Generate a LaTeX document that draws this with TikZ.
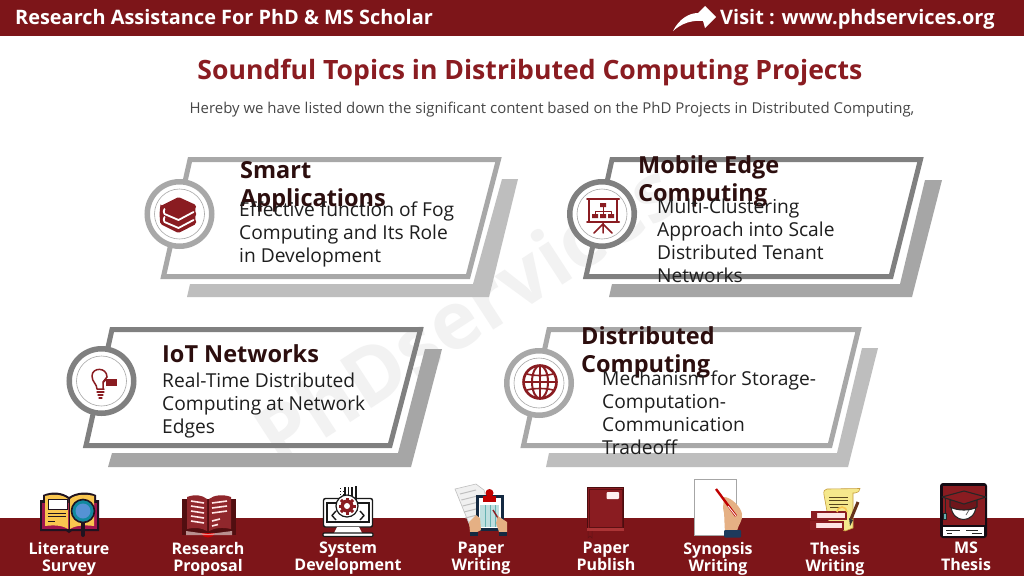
\documentclass[tikz,border=0pt]{standalone}
\usepackage{fontspec}
\setmainfont{Open Sans}
\definecolor{maroon}{HTML}{7D1519}
\definecolor{iconred}{HTML}{8A1C21}
\definecolor{lightg}{HTML}{A8A8A8}
\definecolor{lightsh}{HTML}{BEBEBE}
\definecolor{darkg}{HTML}{808080}
\definecolor{darksh}{HTML}{A6A6A6}
\definecolor{headc}{HTML}{2C0E0E}
\definecolor{bodyc}{HTML}{1E1E1E}
\definecolor{ink}{HTML}{1F1320}
\definecolor{tan}{HTML}{E5B084}
\definecolor{paleyel}{HTML}{F5E88C}
\definecolor{yel}{HTML}{F9C64F}
\definecolor{navy}{HTML}{1D3A5C}
\tikzset{
 x=1pt,y=-1pt,
 heading/.style={anchor=north west,inner sep=0pt,align=left,text=headc,font=\fontsize{23.5}{28.5}\selectfont\bfseries},
 bodytext/.style={anchor=north west,inner sep=0pt,align=left,text=bodyc,font=\fontsize{19.2}{23}\selectfont},
 foot/.style={anchor=north,inner sep=0pt,align=center,text=white,font=\fontsize{16}{17}\selectfont\bfseries,execute at begin node=\strut},
 ic/.style={draw=iconred,line width=1.5pt,line cap=round,line join=round},
 badge/.style={circle,draw=#1,fill=white,line width=5.5pt,minimum size=64.5pt,inner sep=0pt},
 thinring/.style={circle,draw=gray!70,line width=.6pt,minimum size=50pt,inner sep=0pt},
}
\begin{document}
\begin{tikzpicture}
\useasboundingbox (0,0) rectangle (1024,576);
\fill[white] (0,0) rectangle (1024,576);
% watermark
\node[rotate=33,text=black!5,font=\fontsize{80}{80}\selectfont\bfseries,inner sep=0pt] (wm) at (466,312) {PhDservices};
% bands
\fill[maroon] (0,0) rectangle (1024,36);
\fill[maroon] (0,518) rectangle (1024,576);
\node[anchor=base west,inner sep=0pt,text=white,font=\fontsize{19.9}{24}\selectfont\bfseries] (hl) at (15,24) {Research Assistance For PhD \& MS Scholar};
\node[anchor=base west,inner sep=0pt,text=white,font=\fontsize{19.95}{24}\selectfont\bfseries] (hr) at (720,24) {Visit : www.phdservices.org};
\fill[white] (673,31) .. controls (679,19) and (689,13) .. (698,13) -- (705,6) -- (716,17) -- (705,28) -- (703,21) .. controls (692,20) and (682,23) .. (673,31) -- cycle;
\node[inner sep=0pt,text=iconred,font=\fontsize{26.6}{32}\selectfont\bfseries] (title) at (530,73) {Soundful Topics in Distributed Computing Projects};
\node[inner sep=0pt,text=black!72,font=\fontsize{14.95}{18}\selectfont] (sub) at (552,110) {Hereby we have listed down the significant content based on the PhD Projects in Distributed Computing,};
% card 1
\fill[lightsh] (502,179) -- (518,179) -- (489,297) -- (187,297) -- (190,284) -- (473,284) -- cycle;
\draw[lightg,line width=5pt,miter limit=4] (190,159.5) -- (498.5,159.5) -- (468,276.5) -- (163.5,276.5) -- cycle;
\node[badge=lightg] (c1) at (179.5,214) {};
\node[thinring] at (c1) {};
% books icon
\begin{scope}[shift={(178.5,215)}]
\fill[iconred,rounded corners=1.5pt] (-18,-9) -- (0,-18) -- (17.5,-10) -- (17.5,-7) -- (16,-5) -- (17.5,-3) -- (17.5,1) -- (16,3) -- (17.5,5) -- (17.5,9) -- (0,18) -- (-18,9) .. controls (-19,4) and (-19,-5) .. (-18,-9) -- cycle;
\draw[white,line width=1.8pt,line cap=round,line join=round] (-14,-6) .. controls (-15,-4) and (-15,-3) .. (-14,-1) -- (0,5) -- (15,-3);
\draw[white,line width=1.8pt,line cap=round,line join=round] (-14,2) .. controls (-15,4) and (-15,5) .. (-14,7) -- (0,13) -- (15,5);
\end{scope}
% card 2
\fill[darksh] (925,180) -- (942,180) -- (912,297) -- (609,297) -- (612,284) -- (900,284) -- cycle;
\draw[darkg,line width=5pt] (612,159.5) -- (920.5,159.5) -- (891,276.5) -- (586,276.5) -- cycle;
\node[badge=darkg] (c2) at (602,214) {};
\node[thinring] at (c2) {};
\begin{scope}[shift={(603,213)}]
\draw[ic] (-14,-14) rectangle (14,9);
\draw[ic,line width=2pt] (-16,-14) -- (16,-14);
\draw[ic,line width=2pt] (-16,9) -- (16,9);
\draw[ic] (0,9) -- (0,20) (0,11) -- (-9,20) (0,11) -- (9,20);
\draw[ic,line width=1pt] (0,-6) -- (0,-2) (-8,2) -- (-8,-2) -- (8,-2) -- (8,2) (0,-2) -- (0,2);
\fill[iconred] (-3,-10) rectangle (3,-6) (-11,1) rectangle (-5,5) (-3,1) rectangle (3,5) (5,1) rectangle (11,5);
\end{scope}
% card 3
\fill[darksh] (425,349) -- (442,349) -- (411,467) -- (108,467) -- (112,453) -- (398,453) -- cycle;
\draw[darkg,line width=5pt] (112,329.5) -- (420.5,329.5) -- (390,445.5) -- (86,445.5) -- cycle;
\node[badge=darkg] (c3) at (101.5,381) {};
\node[thinring] at (c3) {};
\begin{scope}[shift={(100,382)}]
\draw[ic] (-3,7) .. controls (-3,2) and (-8,0) .. (-8,-6) .. controls (-8,-15) and (7,-15) .. (7,-5) (4,7) -- (-3,7);
\draw[ic] (7,-5) -- (3,0) -- (3,7);
\draw[ic,line width=1.2pt] (-3,10) -- (4,10) (-2,13) -- (3,13) (-1,16) -- (2,16);
\fill[iconred] (6,-3) rectangle (17,4);
\draw[ic,line width=1pt] (3,1) -- (6,-2);
\end{scope}
% card 4
\fill[lightsh] (862,348) -- (878,348) -- (848,467) -- (546,467) -- (549,453) -- (837,453) -- cycle;
\draw[lightg,line width=5pt] (549,329.5) -- (858.5,329.5) -- (830,445.5) -- (523.5,445.5) -- cycle;
\node[badge=lightg] (c4) at (539,383) {};
\node[thinring] at (c4) {};
\begin{scope}[shift={(540,382)}]
\draw[iconred,line width=2.6pt] (0,0) circle (16.5);
\draw[iconred,line width=2pt] (0,0) ellipse (8 and 16.5);
\draw[iconred,line width=1.8pt] (0,-16.5) -- (0,16.5) (-16.5,0) -- (16.5,0);
\draw[iconred,line width=1.6pt] (-13,-8) .. controls (-6,-6) and (6,-6) .. (13,-8) (-13,8) .. controls (-6,6) and (6,6) .. (13,8);
\end{scope}
% card text
\node[heading] (t1) at (240,161) {Smart\\Applications};
\node[bodytext] (b1) at (239,202) {Effective function of Fog\\Computing and Its Role\\in Development};
\node[heading] (t2) at (638,155) {Mobile Edge\\Computing};
\node[bodytext] (b2) at (657,199) {Multi-Clustering\\Approach into Scale\\Distributed Tenant\\Networks};
\node[heading] (t3) at (162,344) {IoT Networks};
\node[bodytext] (b3) at (162,373) {Real-Time Distributed\\Computing at Network\\Edges};
\node[heading] (t4) at (581,326) {Distributed\\Computing};
\node[bodytext] (b4) at (602,371) {Mechanism for Storage-\\Computation-\\Communication\\Tradeoff};
% --- bottom icons ---
% literature survey
\fill[ink] (40,500) -- (43,500) -- (43,495) .. controls (52,491) and (62,492) .. (69,497) .. controls (76,492) and (88,491) .. (96,495) -- (96,500) -- (99,500) -- (99,531) -- (72,531) -- (69,533) -- (66,531) -- (40,531) -- cycle;
\fill[iconred!80!magenta] (42,503) rectangle (97,529);
\fill[yel] (45,496) .. controls (53,494) and (62,494) .. (68,499) -- (68,529) .. controls (62,525) and (53,525) .. (45,526) -- cycle;
\fill[yel] (70,499) .. controls (76,494) and (86,494) .. (94,496) -- (94,526) .. controls (86,525) and (76,525) .. (70,529) -- cycle;
\draw[ink,line width=1pt] (69,498) -- (69,530);
\fill[white,draw=ink,line width=1pt] (48,499) rectangle (67,509);
\draw[ink,line width=1pt] (48,513) -- (66,513) (48,516.5) -- (66,516.5) (48,521) -- (55,521);
\draw[ink,line width=4pt,line cap=round] (83,522) -- (83,535);
\fill[navy!60!cyan,draw=ink,line width=1.6pt] (83,511) circle (11.5);
\fill[cyan!55!blue!70] (83,511) circle (7.5);
% research proposal
\fill[black!35!maroon] (182,499) rectangle (236,535);
\fill[red!80!black] (201,533) .. controls (203,539) and (213,539) .. (215,533) -- cycle;
\fill[red!10!white,opacity=.6] (186,531) -- (207,534) -- (209,534) -- (232,531) -- (232,535) -- (186,535) -- cycle;
\fill[iconred!95!white] (187,497) .. controls (195,494) and (202,495) .. (207,499) -- (207,531) .. controls (202,528) and (195,527) .. (187,529) -- cycle;
\fill[iconred!95!white] (209,499) .. controls (214,495) and (223,494) .. (231,497) -- (231,529) .. controls (223,527) and (214,528) .. (209,531) -- cycle;
\foreach \y in {502,507,512,517,522}{
 \draw[red!10!white,line width=1.6pt] (191,\y-1) -- (204,\y+1);
}
\foreach \y in {502,507,512}{
 \draw[red!10!white,line width=1.6pt] (212,\y+1) -- (227,\y-1);
}
\draw[red!10!white,line width=1.6pt] (212,521) -- (220,519) (212,526) -- (218,524.5);
% system development
\fill[white,draw=black!90,line width=1.4pt,rounded corners=2pt] (323.5,498.5) rectangle (372.5,527);
\draw[black!90,line width=1.2pt] (327,503) rectangle (369,522);
\fill[white] (337,527) -- (359,527) -- (362,533) -- (334,533) -- cycle;
\fill[white,draw=black!90,line width=1.2pt,rounded corners=1pt] (323,533) rectangle (373,536.5);
\draw[black!90,line width=1.4pt] (345,487) -- (345,496) (348.5,487) -- (348.5,496) (352,487) -- (352,496) (356,486) -- (356,500);
\draw[black!90,line width=1pt,dotted] (340,488) -- (340,497) (343,491) -- (343,497);
\fill[white,draw=black!90,line width=1.2pt] (347,506) circle (11);
\foreach \a in {0,45,...,315}{\fill[iconred,shift={(347,506)},rotate=\a] (-1.5,-8.5) rectangle (1.5,-5);}
\fill[iconred] (347,506) circle (6.5);
\fill[white] (347,506) circle (3);
\draw[black!90,line width=1.4pt,line join=round] (336,511) -- (332,515.5) -- (336,520);
\draw[black!90,line width=1.4pt,line join=round] (360,511) -- (364,515.5) -- (360,520);
% paper writing
\fill[black!6,draw=black!25,line width=.6pt] (455,489) -- (476,484) -- (484,490) -- (492,520) -- (470,526) -- cycle;
\foreach \i in {0,1,2,3,4}{\draw[black!25,line width=1pt] (460+\i*1.3,494+\i*6) -- (476+\i*1.3,490+\i*6);}
\fill[navy!70!black] (475.5,495) rectangle (503.5,531);
\fill[white] (478.5,498) rectangle (500.5,528);
\fill[teal!25] (480,505) rectangle (499,527);
\foreach \x in {485,490,495}{\draw[teal!60,line width=.6pt] (\x,505) -- (\x,527);}
\fill[red!75!black] (483,496) rectangle (496,502);
\fill[red!75!black] (489.5,493) circle (4);
\draw[iconred,line width=1.4pt] (493,510) -- (503,526);
\fill[tan] (469,522) -- (476,515) -- (480,518) -- (481,530) -- (477,532) -- (470,532) -- cycle;
\fill[tan] (507,522) -- (498,516) -- (496,523) -- (499,532) -- (507,532) -- cycle;
\fill[navy!70!black] (470,532) rectangle (478,535.5);
\fill[navy!70!black] (499,532) rectangle (507,535.5);
% paper publish
\fill[iconred,draw=black!40!maroon,line width=.8pt] (587.5,487.5) rectangle (623.5,528);
\draw[black!25!maroon,line width=.5pt] (589,489) rectangle (622,527);
\fill[red!6!white,rounded corners=1pt] (606.5,492) rectangle (619,499);
\fill[red!25!maroon!85!white] (587,528) rectangle (624,531);
\draw[iconred!70!black,line width=.5pt] (588,531) -- (588,538) -- (590,536) -- (592,538) -- (592,531);
% synopsis
\fill[white,draw=black!35,line width=.8pt] (694.5,479.5) rectangle (736.5,535);
\fill[tan] (724,497) .. controls (731,497) and (741,507) .. (742,514) .. controls (743,521) and (738,525) .. (737,531) -- (725,531) .. controls (724,522) and (725,515) .. (723,508) -- cycle;
\draw[red!75!black,line width=2.4pt] (716,489) -- (736,516);
\draw[white,line width=.8pt] (728,506) -- (736,516);
\fill[navy,rounded corners=1pt] (724,530) rectangle (741,537.5);
% thesis writing
\fill[paleyel,draw=yel!80!black,line width=.6pt] (827,489) -- (860,488.5) .. controls (860,491) and (858,493) .. (855,493) -- (853,493) -- (853,528) -- (845,531) -- (829,522) -- (824,495) .. controls (823,491) and (825,489) .. (827,489) -- cycle;
\draw[black!65!yel,line width=1pt] (829,497) -- (848,497) (829,500.5) -- (848,500.5) (829,504) -- (848,504) (830,507.5) -- (844,507.5);
\fill[red!10!white,draw=iconred,line width=1.3pt] (812,512) rectangle (846,519);
\fill[red!10!white,draw=iconred,line width=1.3pt] (811,522) rectangle (843,529);
\fill[iconred] (812,512) rectangle (817,519) (811,522) rectangle (816,529);
\draw[yel,line width=1.6pt] (837,512) arc (180:360:5);
\draw[black!65!yel!60!maroon,line width=3pt] (858,502) -- (851,519);
\fill[black!80] (849,518) -- (853,520) -- (850,526) -- cycle;
% MS thesis
\fill[ink!60!black,rounded corners=3pt] (940,483) rectangle (987,538);
\fill[iconred] (942.5,485.5) rectangle (984.5,525);
\fill[white] (943,526.5) rectangle (984,536);
\draw[black!85,line width=1pt] (946,530) -- (960,530) (966,530) -- (978,530) (947,533.5) -- (952,533.5) (972,533.5) -- (982,533.5);
\fill[white,draw=black!85,line width=1pt] (951,506) .. controls (952,524) and (975,524) .. (976,506) .. controls (968,510) and (959,510) .. (951,506) -- cycle;
\draw[black!60,line width=.8pt] (966,515) -- (969,510);
\fill[iconred!80!black,draw=black!85,line width=1.1pt,line join=round] (950,500) -- (950,507) .. controls (958,511) and (970,511) .. (977,507) -- (977,500) -- cycle;
\fill[iconred,draw=black!85,line width=1.1pt,line join=round] (964,491) -- (986,497) -- (964,504) -- (942,497) -- cycle;
\draw[black!85,line width=.9pt] (945,498) -- (945,513);
\fill[teal!60,draw=black!85,line width=.6pt] (943.5,513) rectangle (946.5,519);
% footer labels
\node[foot] (f1) at (69,542) {Literature\\Survey};
\node[foot] (f2) at (208,542) {Research\\Proposal};
\node[foot] (f3) at (348,542) {System\\Development};
\node[foot] (f4) at (481,542) {Paper\\Writing};
\node[foot] (f5) at (606,542) {Paper\\Publish};
\node[foot] (f6) at (718,542) {Synopsis\\Writing};
\node[foot] (f7) at (835,542) {Thesis\\Writing};
\node[foot] (f8) at (966,542) {MS\\Thesis};
\end{tikzpicture}
\end{document}
